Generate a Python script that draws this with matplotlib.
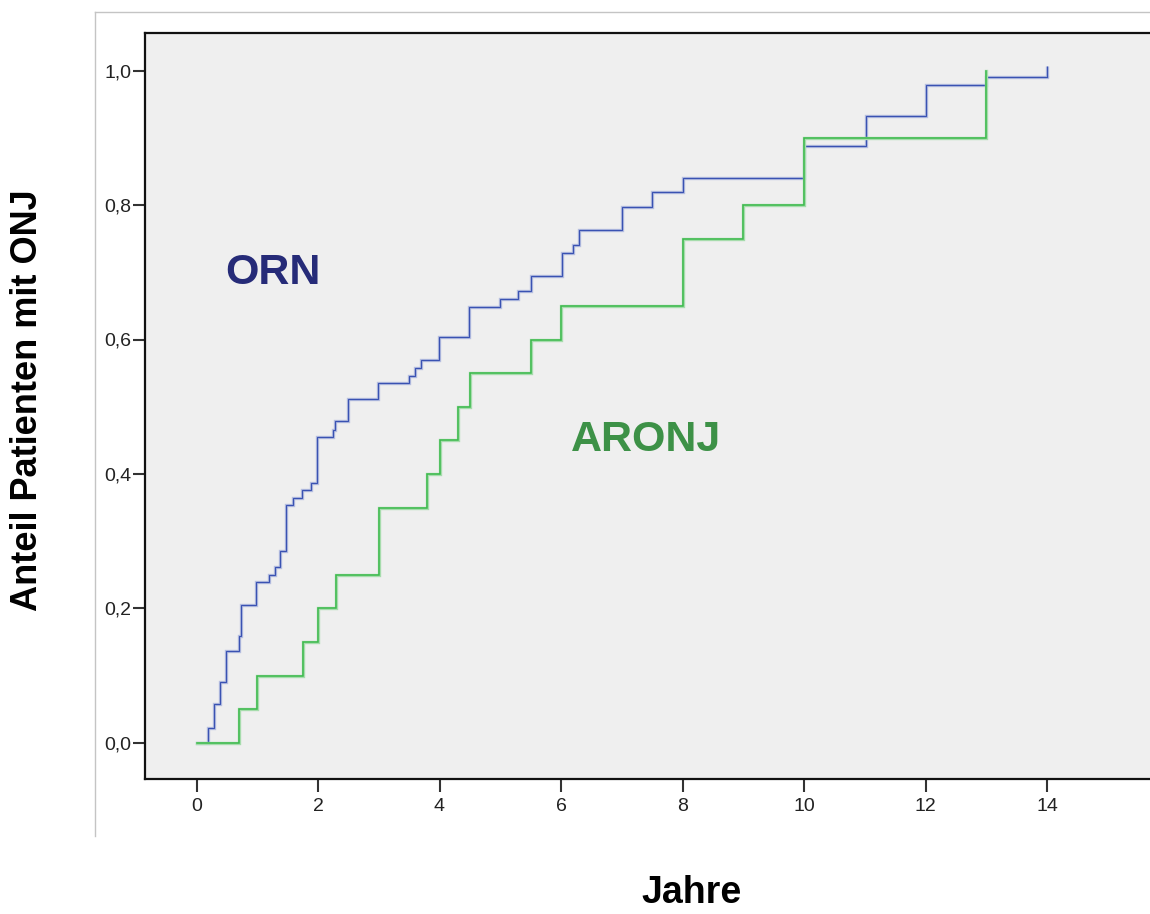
import matplotlib
matplotlib.use("Agg")
import matplotlib.pyplot as plt
from matplotlib.lines import Line2D
from matplotlib.path import Path

plt.rcParams['font.family'] = ['Liberation Sans', 'DejaVu Sans']

# ---- data ----
orn_times = [0.19, 0.28, 0.38, 0.48, 0.70, 0.74, 0.98, 1.19, 1.29, 1.37, 1.48, 1.59,
             1.73, 1.89, 1.98, 2.25, 2.28, 2.50, 2.99, 3.49, 3.59, 3.70, 3.99, 4.49,
             4.99, 5.29, 5.50, 6.01, 6.20, 6.30, 7.01, 7.50, 8.01, 10.0, 11.02, 12.01, 13.0]
orn_values = [0.022, 0.058, 0.091, 0.137, 0.159, 0.205, 0.239, 0.250, 0.261, 0.285, 0.353, 0.364,
              0.376, 0.387, 0.455, 0.466, 0.479, 0.511, 0.535, 0.546, 0.558, 0.569, 0.603, 0.649,
              0.660, 0.672, 0.695, 0.728, 0.740, 0.763, 0.797, 0.820, 0.841, 0.888, 0.933, 0.979, 0.991]
orn_end = 14.0
orn_censor_t = [14.0]
orn_censor_y = [0.991]

aronj_times = [0.70, 1.0, 1.75, 2.0, 2.3, 3.0, 3.8, 4.0, 4.3, 4.5, 5.5, 6.0, 8.0, 9.0, 10.0, 13.0]
aronj_values = [0.05, 0.10, 0.15, 0.20, 0.25, 0.35, 0.40, 0.45, 0.50, 0.55, 0.60, 0.65, 0.75, 0.80, 0.90, 1.00]
aronj_end = 13.0

x_ticks = [0, 2, 4, 6, 8, 10, 12, 14]
y_ticks = [0.0, 0.2, 0.4, 0.6, 0.8, 1.0]
y_tick_labels = ['0,0', '0,2', '0,4', '0,6', '0,8', '1,0']

# ---- figure ----
W, H = 1150, 914
fig = plt.figure(figsize=(W / 100, H / 100), dpi=100)
fig.patch.set_facecolor('white')

left_px, right_px, top_px, bottom_px = 145, 1165, 33, 779
ax = fig.add_axes([left_px / W, 1 - bottom_px / H,
                   (right_px - left_px) / W, (bottom_px - top_px) / H])
ax.set_facecolor('#efefef')

x0_px, px_per_year = 196.5, 60.75
ax.set_xlim((left_px - x0_px) / px_per_year, (right_px - x0_px) / px_per_year)
y0_px, px_per_unit = 742.7, 672.0
ax.set_ylim(-(bottom_px - y0_px) / px_per_unit, (y0_px - top_px) / px_per_unit)


def step_xy(times, values, end):
    xs = [0.0] + list(times) + [end]
    ys = [0.0] + list(values) + [values[-1]]
    return xs, ys


ox, oy = step_xy(orn_times, orn_values, orn_end)
ax.step(ox, oy, where='post', color='#b6bfe0', lw=2.4, solid_joinstyle='miter', zorder=2)
ax.step(ox, oy, where='post', color='#3a52b2', lw=0.9, solid_joinstyle='miter', zorder=3)
up_tick = Path([(0, 0), (0, 1)])
ax.plot(orn_censor_t, orn_censor_y, linestyle='none', marker=up_tick, markersize=16,
        markeredgecolor='#b6bfe0', markeredgewidth=2.4, zorder=2)
ax.plot(orn_censor_t, orn_censor_y, linestyle='none', marker=up_tick, markersize=16,
        markeredgecolor='#3a52b2', markeredgewidth=0.9, zorder=3)

ax_, ay_ = step_xy(aronj_times, aronj_values, aronj_end)
ax.step(ax_, ay_, where='post', color='#a6dcac', lw=2.4, solid_joinstyle='miter', zorder=4)
ax.step(ax_, ay_, where='post', color='#3cba4c', lw=1.1, solid_joinstyle='miter', zorder=5)

ax.text((273 - x0_px) / px_per_year, (y0_px - 273) / px_per_unit, 'ORN',
        color='#262b78', fontsize=31, fontweight='bold', ha='center', va='center')
ax.text((646 - x0_px) / px_per_year, (y0_px - 440) / px_per_unit, 'ARONJ',
        color='#3d9147', fontsize=31, fontweight='bold', ha='center', va='center')

ax.set_xticks(x_ticks)
ax.set_xticklabels([str(v) for v in x_ticks])
ax.set_yticks(y_ticks)
ax.set_yticklabels(y_tick_labels)
ax.tick_params(axis='both', direction='out', length=9, width=1.5, color='#333333',
               labelsize=14, labelcolor='#222222')
ax.tick_params(axis='y', pad=1)
ax.tick_params(axis='x', pad=5)

for side in ['left', 'bottom', 'top']:
    ax.spines[side].set_color('#111111')
    ax.spines[side].set_linewidth(1.6)
ax.spines['right'].set_visible(False)

# axis titles
fig.text(28 / W, 1 - 400 / H, 'Anteil Patienten mit ONJ', rotation=90,
         ha='center', va='center', fontsize=26, fontweight='bold', color='black')
fig.text(692 / W, 1 - 893 / H, 'Jahre', ha='center', va='center',
         fontsize=27, fontweight='bold', color='black')

# outer light gray frame
fig.add_artist(Line2D([95 / W, 95 / W], [1 - 12 / H, 1 - 836 / H],
                      transform=fig.transFigure, color='#c4c4c4', lw=1.0))
fig.add_artist(Line2D([95 / W, 1.0], [1 - 12 / H, 1 - 12 / H],
                      transform=fig.transFigure, color='#c4c4c4', lw=1.0))

fig.savefig('out.png', dpi=100, facecolor='white')
